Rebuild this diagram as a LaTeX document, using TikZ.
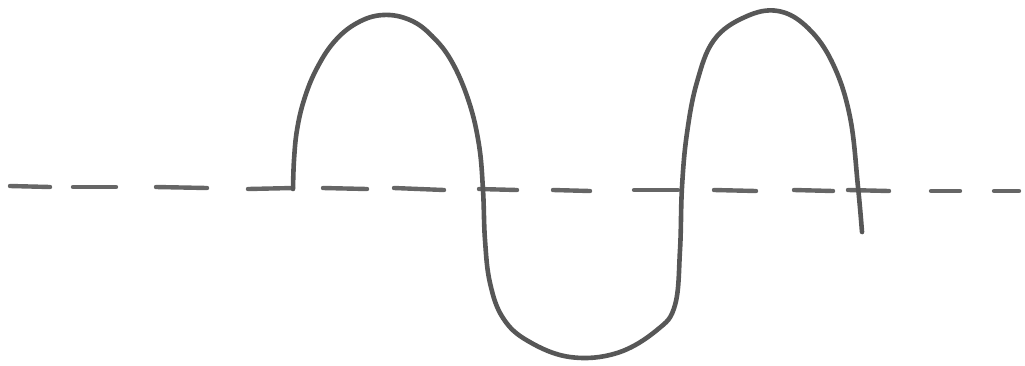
\documentclass[tikz,border=0pt]{standalone}
\begin{document}
\begin{tikzpicture}[x=1pt,y=-1pt,
  wave/.style={draw=black!66, line width=4.6pt, line cap=round, line join=round},
  dashseg/.style={draw=black!60, line width=4.4pt, line cap=round}]
\useasboundingbox (0,0) rectangle (1025,365);
% dashed axis, drawn as separate hand-drawn dashes
\foreach \a/\b/\ya/\yb in {10/50/186/187, 73/116/187/187, 156/207/187/188, 248/293/189/188,
  323/367/188/189, 394/444/188/190, 479/517/189/190, 553/590/190/191, 634/678/190/190,
  714/756/190/191, 794/833/190/191, 848/889/190/191, 931/960/191/191, 994/1019/191/191}
  \draw[dashseg] (\a,\ya) -- (\b,\yb);
% wave
\draw[wave] plot[smooth, tension=0.65] coordinates {
  (293,189) (294,160) (297,130) (304,100) (316,70) (334,42) (357,23) (383,15)
  (410,20) (432,36) (452,62) (469,102) (479,145) (483,190) (485,240) (490,283)
  (503,318) (528,341) (570,357) (617,353) (657,330) (675,305) (680,250) (682,187)
  (687,133) (697,82) (714,40) (745,17) (778,11) (808,28) (833,64) (850,117)
  (858,187) (862,232)};
\end{tikzpicture}
\end{document}
